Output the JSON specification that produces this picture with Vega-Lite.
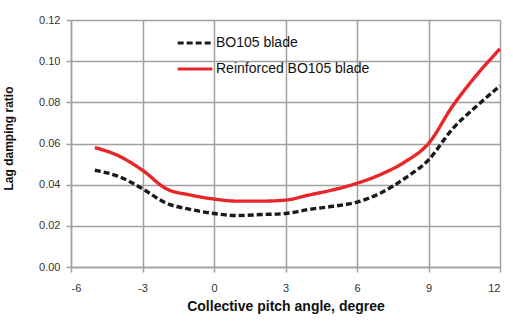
{
  "$schema": "https://vega.github.io/schema/vega-lite/v6.json",
  "autosize": "none",
  "width": 429,
  "height": 247,
  "padding": {"left": 71, "top": 20, "right": 13, "bottom": 54},
  "background": "white",
  "config": {
    "view": {"stroke": null},
    "font": "Liberation Sans"
  },
  "data": {
    "values": [
      {"pitch": -5, "ratio": 0.047, "series": "BO105 blade"},
      {"pitch": -4, "ratio": 0.044, "series": "BO105 blade"},
      {"pitch": -3, "ratio": 0.038, "series": "BO105 blade"},
      {"pitch": -2, "ratio": 0.031, "series": "BO105 blade"},
      {"pitch": -1, "ratio": 0.028, "series": "BO105 blade"},
      {"pitch": 0, "ratio": 0.026, "series": "BO105 blade"},
      {"pitch": 1, "ratio": 0.025, "series": "BO105 blade"},
      {"pitch": 2, "ratio": 0.0255, "series": "BO105 blade"},
      {"pitch": 3, "ratio": 0.026, "series": "BO105 blade"},
      {"pitch": 4, "ratio": 0.028, "series": "BO105 blade"},
      {"pitch": 5, "ratio": 0.0295, "series": "BO105 blade"},
      {"pitch": 6, "ratio": 0.0315, "series": "BO105 blade"},
      {"pitch": 7, "ratio": 0.036, "series": "BO105 blade"},
      {"pitch": 8, "ratio": 0.043, "series": "BO105 blade"},
      {"pitch": 9, "ratio": 0.052, "series": "BO105 blade"},
      {"pitch": 10, "ratio": 0.067, "series": "BO105 blade"},
      {"pitch": 11, "ratio": 0.078, "series": "BO105 blade"},
      {"pitch": 12, "ratio": 0.088, "series": "BO105 blade"},
      {"pitch": -5, "ratio": 0.058, "series": "Reinforced BO105 blade"},
      {"pitch": -4, "ratio": 0.054, "series": "Reinforced BO105 blade"},
      {"pitch": -3, "ratio": 0.047, "series": "Reinforced BO105 blade"},
      {"pitch": -2, "ratio": 0.038, "series": "Reinforced BO105 blade"},
      {"pitch": -1, "ratio": 0.035, "series": "Reinforced BO105 blade"},
      {"pitch": 0, "ratio": 0.033, "series": "Reinforced BO105 blade"},
      {"pitch": 1, "ratio": 0.032, "series": "Reinforced BO105 blade"},
      {"pitch": 2, "ratio": 0.032, "series": "Reinforced BO105 blade"},
      {"pitch": 3, "ratio": 0.0325, "series": "Reinforced BO105 blade"},
      {"pitch": 4, "ratio": 0.035, "series": "Reinforced BO105 blade"},
      {"pitch": 5, "ratio": 0.0375, "series": "Reinforced BO105 blade"},
      {"pitch": 6, "ratio": 0.0407, "series": "Reinforced BO105 blade"},
      {"pitch": 7, "ratio": 0.045, "series": "Reinforced BO105 blade"},
      {"pitch": 8, "ratio": 0.051, "series": "Reinforced BO105 blade"},
      {"pitch": 9, "ratio": 0.060, "series": "Reinforced BO105 blade"},
      {"pitch": 10, "ratio": 0.078, "series": "Reinforced BO105 blade"},
      {"pitch": 11, "ratio": 0.093, "series": "Reinforced BO105 blade"},
      {"pitch": 12, "ratio": 0.106, "series": "Reinforced BO105 blade"}
    ]
  },
  "mark": {"type": "line", "interpolate": "monotone", "strokeWidth": 3.4},
  "encoding": {
    "x": {
      "field": "pitch",
      "type": "quantitative",
      "scale": {"domain": [-6, 12], "nice": false, "zero": false},
      "axis": {
        "values": [-6, -3, 0, 3, 6, 9, 12],
        "labelExpr": "'' + datum.value",
        "grid": true,
        "gridColor": "#a0a0a0",
        "gridWidth": 1.5,
        "gridOpacity": 1,
        "title": "Collective pitch angle, degree",
        "titleFontSize": 14,
        "titleFontWeight": "bold",
        "titleColor": "#111",
        "titlePadding": 6,
        "labelFontSize": 11,
        "labelColor": "#333",
        "labelPadding": 10,
        "domainColor": "#a0a0a0",
        "domainWidth": 1.5,
        "tickColor": "#a0a0a0",
        "tickWidth": 1.5,
        "tickSize": 5
      }
    },
    "y": {
      "field": "ratio",
      "type": "quantitative",
      "scale": {"domain": [0, 0.12], "nice": false},
      "axis": {
        "values": [0, 0.02, 0.04, 0.06, 0.08, 0.1, 0.12],
        "format": ".2f",
        "grid": true,
        "gridColor": "#a0a0a0",
        "gridWidth": 1.5,
        "gridOpacity": 1,
        "title": "Lag damping ratio",
        "titleFontSize": 12,
        "titleFontWeight": "bold",
        "titleColor": "#111",
        "titleX": -56,
        "titleY": 118,
        "labelFontSize": 11,
        "labelColor": "#333",
        "labelPadding": 6,
        "domainColor": "#a0a0a0",
        "domainWidth": 1.5,
        "tickColor": "#a0a0a0",
        "tickWidth": 1.5,
        "tickSize": 5
      }
    },
    "color": {
      "field": "series",
      "type": "nominal",
      "scale": {"domain": ["BO105 blade", "Reinforced BO105 blade"], "range": ["#1a1a1a", "#e8262a"]},
      "legend": {
        "orient": "none",
        "legendX": 105,
        "legendY": 4,
        "title": null,
        "symbolType": "stroke",
        "symbolSize": 1200,
        "symbolStrokeWidth": 3,
        "labelFontSize": 14,
        "labelColor": "#111",
        "rowPadding": -8,
        "labelOffset": 2
      }
    },
    "strokeDash": {
      "field": "series",
      "type": "nominal",
      "scale": {"domain": ["BO105 blade", "Reinforced BO105 blade"], "range": [[6, 3], [1, 0]]},
      "legend": null
    }
  }
}
